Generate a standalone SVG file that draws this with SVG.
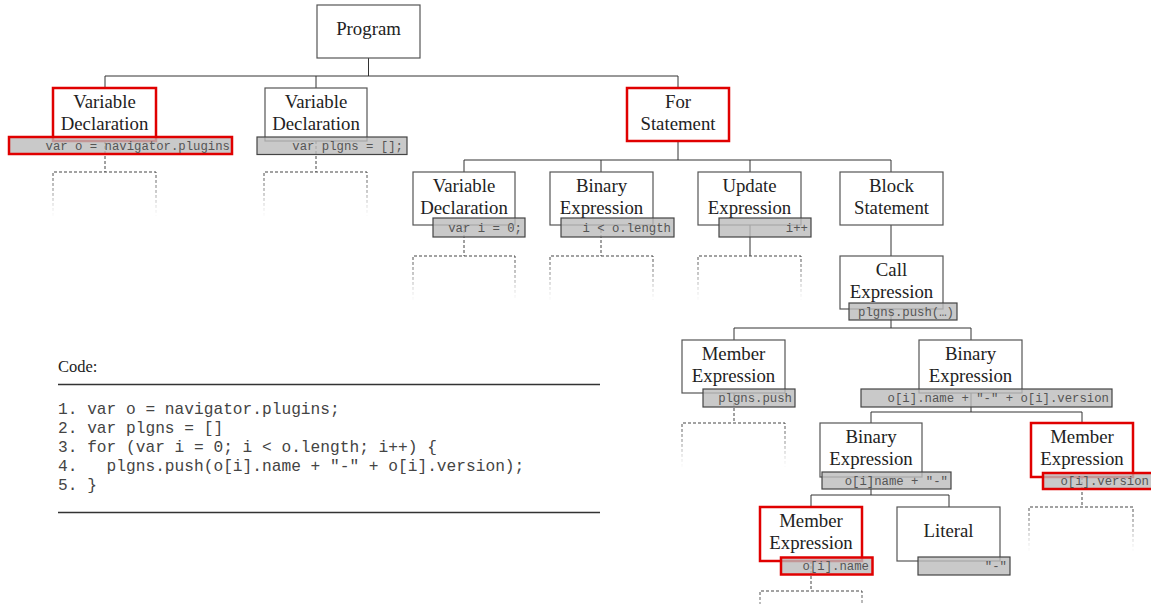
<svg xmlns="http://www.w3.org/2000/svg" width="1151" height="604" viewBox="0 0 1151 604">
<style>
.nb{fill:#fff;stroke:#555;stroke-width:1.2}
.hl{fill:#fff;stroke:#e00000;stroke-width:2.5}
.nt{font-family:"Liberation Serif","DejaVu Serif",serif;font-size:18.8px;fill:#222;text-anchor:middle}
.lb{fill:#bcbcbc;fill-opacity:0.8;stroke:#444;stroke-width:1.2}
.lbh{fill:#bcbcbc;fill-opacity:0.8;stroke:#e00000;stroke-width:2.5}
.lt{font-family:"Liberation Mono","DejaVu Sans Mono",monospace;font-size:12.3px;fill:#555;text-anchor:end}
.e{fill:none;stroke:#333;stroke-width:1}
.d{fill:none;stroke:#444;stroke-width:1;stroke-dasharray:3 2}
.ph{fill:none;stroke:url(#fade);stroke-width:1;stroke-dasharray:3 2}
.code{font-family:"Liberation Mono","DejaVu Sans Mono",monospace;font-size:16.2px;fill:#444}
</style>
<defs>
<linearGradient id="fade" x1="0" y1="0" x2="0" y2="1">
<stop offset="0" stop-color="#444" stop-opacity="1"/>
<stop offset="0.5" stop-color="#777" stop-opacity="0.7"/>
<stop offset="1" stop-color="#ccc" stop-opacity="0.1"/>
</linearGradient>
</defs>

<g id="connectors">
<path class="e" d="M368.5 58V76M105 76H678M105 76V88M316 76V88M678 76V88"/>
<path class="e" d="M678 141V160M464 160H891M464 160V172M601 160V172M750 160V172M891 160V172"/>
<path class="e" d="M891 225V256"/>
<path class="e" d="M750 225V256"/>
<path class="e" d="M891 309V328M734 328H971M734 328V340M971 328V340"/>
<path class="e" d="M971 393V412M871 412H1082M871 412V423M1082 412V423"/>
<path class="e" d="M871 477V495M811 495H949M811 495V507M949 495V507"/>
<path class="d" d="M105 141V172M316 141V172M464 225V256M601 225V256M734 393V423M1082 477V507M811 561V591"/>
</g>

<g id="placeholders">
<path class="ph" d="M53 216V172H156V216"/>
<path class="ph" d="M264 216V172H367V216"/>
<path class="ph" d="M413 300V256H515V300"/>
<path class="ph" d="M550 300V256H653V300"/>
<path class="ph" d="M698 300V256H801V300"/>
<path class="ph" d="M682 467V423H785V467"/>
<path class="ph" d="M1029 551V507H1133V551"/>
<path class="ph" d="M760 635V591H862V635"/>
</g>

<g id="n-program"><rect class="nb" x="317" y="5" width="103" height="53"/><text class="nt" x="368.5" y="35">Program</text></g>

<g id="n-vardecl1"><rect class="hl" x="53" y="88" width="103" height="53"/><text class="nt" x="104.5" y="108">Variable</text><text class="nt" x="104.5" y="130">Declaration</text>
<rect class="lbh" x="9" y="137" width="223" height="17"/><text class="lt" x="230" y="150">var o = navigator.plugins</text></g>

<g id="n-vardecl2"><rect class="nb" x="265" y="88" width="102" height="53"/><text class="nt" x="316" y="108">Variable</text><text class="nt" x="316" y="130">Declaration</text>
<rect class="lb" x="257" y="137" width="150" height="17.5"/><text class="lt" x="403" y="150">var plgns = [];</text></g>

<g id="n-for"><rect class="hl" x="627" y="88" width="102" height="53"/><text class="nt" x="678" y="108">For</text><text class="nt" x="678" y="130">Statement</text></g>

<g id="n-vardecl3"><rect class="nb" x="413" y="172" width="102" height="53"/><text class="nt" x="464" y="192">Variable</text><text class="nt" x="464" y="214">Declaration</text>
<rect class="lb" x="433" y="218" width="92" height="19"/><text class="lt" x="522" y="231.5">var i = 0;</text></g>

<g id="n-binary1"><rect class="nb" x="550" y="172" width="103" height="53"/><text class="nt" x="601.5" y="192">Binary</text><text class="nt" x="601.5" y="214">Expression</text>
<rect class="lb" x="561" y="218" width="113" height="19"/><text class="lt" x="671" y="231.5">i &lt; o.length</text></g>

<g id="n-update"><rect class="nb" x="698" y="172" width="103" height="53"/><text class="nt" x="749.5" y="192">Update</text><text class="nt" x="749.5" y="214">Expression</text>
<rect class="lb" x="719" y="218" width="92" height="19"/><text class="lt" x="808" y="231.5">i++</text></g>

<g id="n-block"><rect class="nb" x="840" y="172" width="103" height="53"/><text class="nt" x="891.5" y="192">Block</text><text class="nt" x="891.5" y="214">Statement</text></g>

<g id="n-call"><rect class="nb" x="840" y="256" width="103" height="53"/><text class="nt" x="891.5" y="276">Call</text><text class="nt" x="891.5" y="298">Expression</text>
<rect class="lb" x="849" y="303" width="108" height="17"/><text class="lt" x="954" y="316">plgns.push(…)</text></g>

<g id="n-member1"><rect class="nb" x="682" y="340" width="103" height="53"/><text class="nt" x="733.5" y="359.5">Member</text><text class="nt" x="733.5" y="381.5">Expression</text>
<rect class="lb" x="703" y="389" width="92" height="18"/><text class="lt" x="792" y="402">plgns.push</text></g>

<g id="n-binary2"><rect class="nb" x="919" y="340" width="103" height="53"/><text class="nt" x="970.5" y="359.5">Binary</text><text class="nt" x="970.5" y="381.5">Expression</text>
<rect class="lb" x="861" y="389" width="251" height="18"/><text class="lt" x="1109" y="402">o[i].name + "-" + o[i].version</text></g>

<g id="n-binary3"><rect class="nb" x="820" y="423" width="102" height="54"/><text class="nt" x="871" y="443">Binary</text><text class="nt" x="871" y="465">Expression</text>
<rect class="lb" x="822" y="472" width="129" height="17"/><text class="lt" x="948" y="485">o[i]name + "-"</text></g>

<g id="n-member2"><rect class="hl" x="1031" y="423" width="102" height="54"/><text class="nt" x="1082" y="443">Member</text><text class="nt" x="1082" y="465">Expression</text>
<rect class="lbh" x="1043" y="473" width="110" height="16"/><text class="lt" x="1149" y="485">o[i].version</text></g>

<g id="n-member3"><rect class="hl" x="760" y="507" width="102" height="54"/><text class="nt" x="811" y="527">Member</text><text class="nt" x="811" y="549">Expression</text>
<rect class="lbh" x="781" y="557.5" width="91.5" height="17"/><text class="lt" x="869" y="570">o[i].name</text></g>

<g id="n-literal"><rect class="nb" x="897" y="507" width="103" height="54"/><text class="nt" x="948.5" y="537">Literal</text>
<rect class="lb" x="918" y="557" width="92" height="18"/><text class="lt" x="1007" y="570">"-"</text></g>

<g id="code">
<text x="58" y="372" style="font-family:'Liberation Serif','DejaVu Serif',serif;font-size:16.5px;fill:#222">Code:</text>
<path d="M58 384.5H600M58 512.5H600" stroke="#333" stroke-width="1.3" fill="none"/>
<text class="code" xml:space="preserve" x="58" y="413.5">1. var o = navigator.plugins;</text>
<text class="code" xml:space="preserve" x="58" y="432.7">2. var plgns = []</text>
<text class="code" xml:space="preserve" x="58" y="451.9">3. for (var i = 0; i &lt; o.length; i++) {</text>
<text class="code" xml:space="preserve" x="58" y="471.1">4.   plgns.push(o[i].name + "-" + o[i].version);</text>
<text class="code" xml:space="preserve" x="58" y="490.3">5. }</text>
</g>
</svg>
